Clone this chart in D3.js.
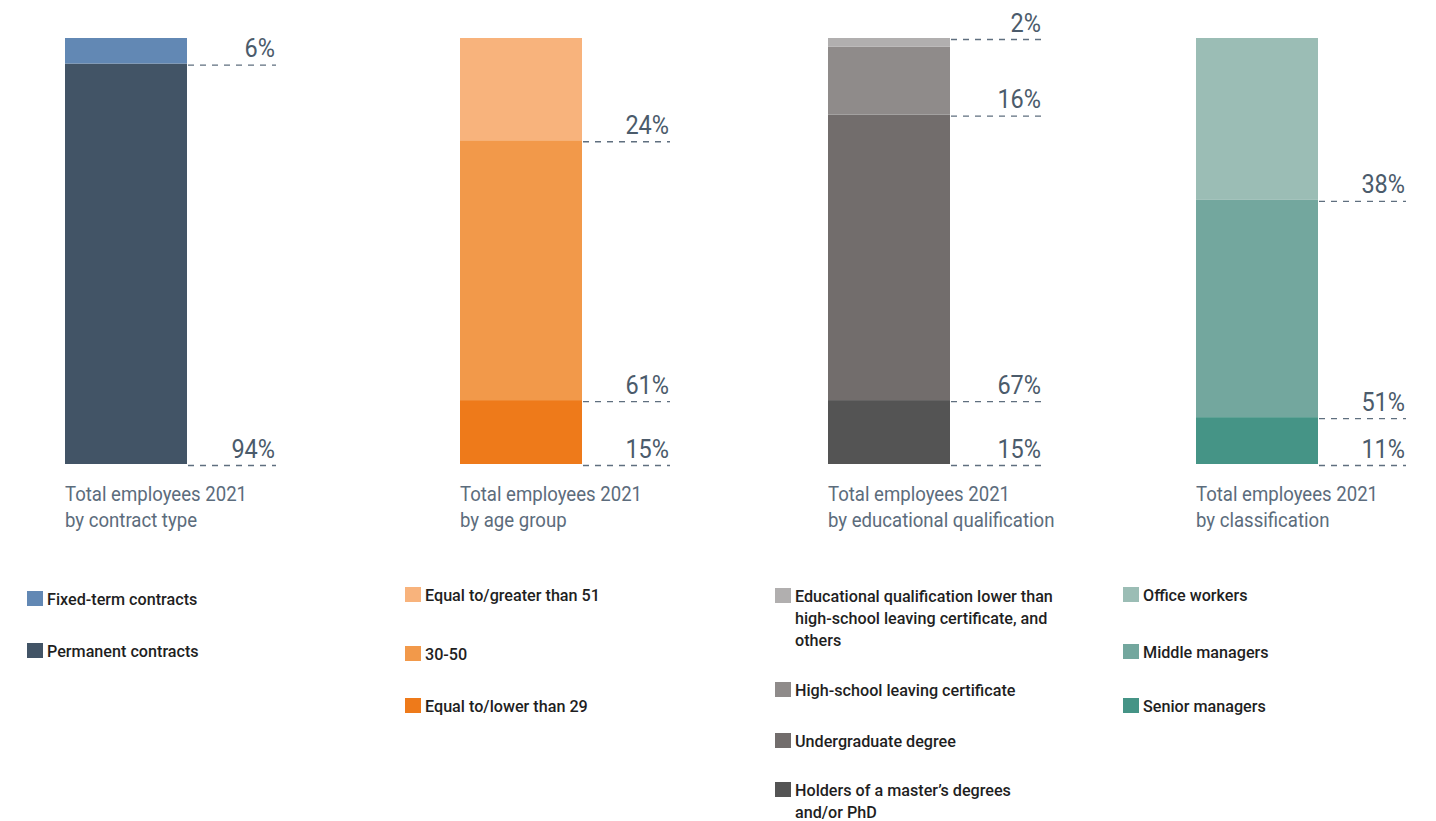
<!DOCTYPE html>
<html>
<head>
<meta charset="utf-8">
<script src="https://cdn.jsdelivr.net/npm/d3@7"></script>
<style>
  html, body { margin: 0; padding: 0; background: #ffffff; }
  svg { display: block; }
  text { font-family: "Roboto", "Noto Sans", sans-serif; }
</style>
</head>
<body>
<svg id="chart" width="1436" height="821"></svg>
<script>
// Employee breakdowns for 2021, each stacked bottom-to-top (percentages).
const contractLabels = ["Permanent contracts", "Fixed-term contracts"];
const contractValues = [94, 6];
const contractColors = ["#425466", "#6288b4"];

const ageLabels = ["Equal to/lower than 29", "30-50", "Equal to/greater than 51"];
const ageValues = [15, 61, 24];
const ageColors = ["#ee7a1a", "#f2994a", "#f8b37c"];

const eduLabels = [
  "Holders of a master’s degrees and/or PhD",
  "Undergraduate degree",
  "High-school leaving certificate",
  "Educational qualification lower than high-school leaving certificate, and others"
];
const eduValues = [15, 67, 16, 2];
const eduColors = ["#545454", "#726d6c", "#8f8b8a", "#b1afaf"];

const classLabels = ["Senior managers", "Middle managers", "Office workers"];
const classValues = [11, 51, 38];
const classColors = ["#459486", "#73a79e", "#9bbdb5"];

const panelTitles = [
  ["Total employees 2021", "by contract type"],
  ["Total employees 2021", "by age group"],
  ["Total employees 2021", "by educational qualification"],
  ["Total employees 2021", "by classification"]
];

// Legend entries listed top-to-bottom, with wrapped lines
const contractLegend = [["Fixed-term contracts"], ["Permanent contracts"]];
const ageLegend = [["Equal to/greater than 51"], ["30-50"], ["Equal to/lower than 29"]];
const eduLegend = [
  ["Educational qualification lower than", "high-school leaving certificate, and", "others"],
  ["High-school leaving certificate"],
  ["Undergraduate degree"],
  ["Holders of a master’s degrees", "and/or PhD"]
];
const classLegend = [["Office workers"], ["Middle managers"], ["Senior managers"]];

const panels = [
  { values: contractValues, colors: contractColors, legend: contractLegend, legendColors: contractColors.slice().reverse() },
  { values: ageValues, colors: ageColors, legend: ageLegend, legendColors: ageColors.slice().reverse() },
  { values: eduValues, colors: eduColors, legend: eduLegend, legendColors: eduColors.slice().reverse() },
  { values: classValues, colors: classColors, legend: classLegend, legendColors: classColors.slice().reverse() }
];

// Layout
const barLeft = [65, 460, 828, 1196];
const barWidth = 122;
const labelRight = [276, 670, 1042, 1406];
const legendLeft = [27, 405, 775, 1123];
const legendRowY = [
  [599, 651],
  [595, 654, 706],
  [596, 690, 741, 790],
  [595, 652, 706]
];
const barTop = 38, barBottom = 464;

const svg = d3.select("#chart");
const y = d3.scaleLinear().domain([0, 100]).range([barBottom, barTop]);

// Text narrowed horizontally to give a condensed face
function label(g, x, yy, str, size, fill, anchor, sx, weight) {
  return g.append("text")
    .attr("transform", `translate(${x},${yy}) scale(${sx},1)`)
    .attr("text-anchor", anchor)
    .attr("font-size", size)
    .attr("font-weight", weight || 400)
    .attr("fill", fill)
    .text(str);
}

panels.forEach((p, i) => {
  const g = svg.append("g");
  const x0 = barLeft[i];
  const stack = [];
  let acc = 0;
  p.values.forEach((v, k) => { stack.push({ v, y0: acc, y1: acc + v, color: p.colors[k] }); acc += v; });

  g.selectAll("rect.seg").data(stack).enter().append("rect")
    .attr("class", "seg")
    .attr("x", x0)
    .attr("width", barWidth)
    .attr("y", d => y(d.y1))
    .attr("height", d => y(d.y0) - y(d.y1))
    .attr("fill", d => d.color);

  // Dashed leader at each segment's lower edge (top edge for a very thin top slice)
  const lineY = d => (y(d.y0) - y(d.y1) < 20 ? y(d.y1) : y(d.y0));
  g.selectAll("line.lead").data(stack).enter().append("line")
    .attr("x1", x0 + barWidth + 1).attr("x2", labelRight[i])
    .attr("y1", d => lineY(d) + 1.5).attr("y2", d => lineY(d) + 1.5)
    .attr("stroke", "#5f6f7f").attr("stroke-width", 1.3)
    .attr("stroke-dasharray", "6,6");

  stack.forEach(d => {
    label(g, labelRight[i] - 1, lineY(d) - 6.5, d.v + "%", 25, "#4b5b6b", "end", 0.94);
  });

  // Panel caption
  panelTitles[i].forEach((t, k) => {
    label(g, x0, 501 + k * 26, t, 20, "#5c6c7c", "start", 0.93);
  });

  // Legend
  p.legend.forEach((lines, k) => {
    const cy = legendRowY[i][k];
    g.append("rect")
      .attr("x", legendLeft[i]).attr("y", cy - 8)
      .attr("width", 16).attr("height", 15)
      .attr("fill", p.legendColors[k]);
    lines.forEach((ln, j) => {
      label(g, legendLeft[i] + 20, cy + 6 + j * 22, ln, 16.5, "#1f1f1f", "start", 0.98, 500);
    });
  });
});
</script>
</body>
</html>
